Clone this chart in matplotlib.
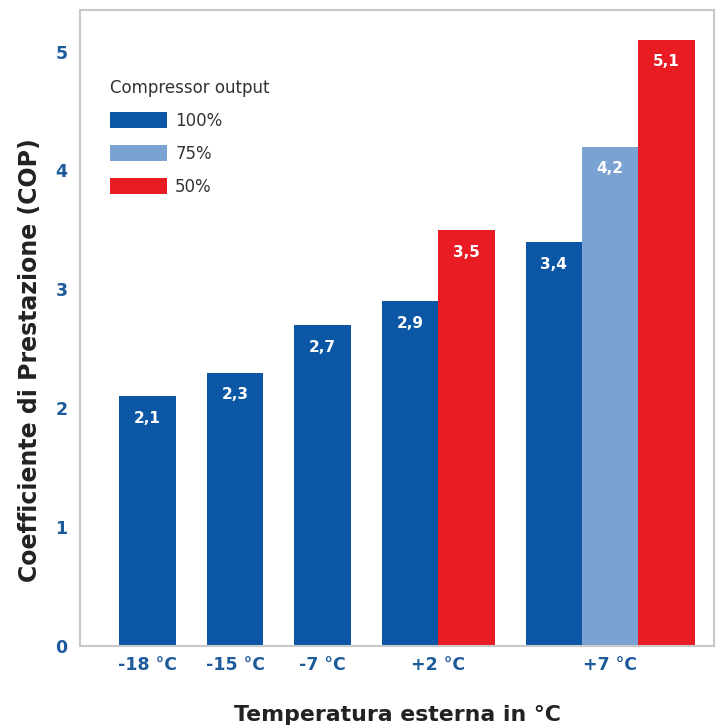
import matplotlib
matplotlib.use("Agg")
import matplotlib.pyplot as plt
from matplotlib.patches import Patch

# data
categories = ["-18 °C", "-15 °C", "-7 °C", "+2 °C", "+7 °C"]
series_names = ["100%", "75%", "50%"]
cop_100 = [2.1, 2.3, 2.7, 2.9, 3.4]
cop_75 = [None, None, None, None, 4.2]
cop_50 = [None, None, None, 3.5, 5.1]
value_labels_100 = ["2,1", "2,3", "2,7", "2,9", "3,4"]
value_labels_75 = ["", "", "", "", "4,2"]
value_labels_50 = ["", "", "", "3,5", "5,1"]
y_ticks = [0, 1, 2, 3, 4, 5]

colors = ["#0b57a6", "#7aa3d4", "#e91c24"]
tick_color = "#1d5a9c"

plt.rcParams["font.family"] = ["DejaVu Sans"]

fig = plt.figure(figsize=(7.24, 7.28), dpi=100)
ax = fig.add_axes([80 / 724, 82 / 728, 634 / 724, 636 / 728])

series = [cop_100, cop_75, cop_50]
labels = [value_labels_100, value_labels_75, value_labels_50]

# lay out groups: bars of width 1, gap 0.55 between groups
width = 1.0
gap = 0.55
x = 0.0
group_centers = []
for i in range(len(categories)):
    present = [k for k in range(len(series)) if series[k][i] is not None]
    n = len(present)
    for j, k in enumerate(present):
        xc = x + j * width + width / 2
        h = series[k][i]
        ax.bar(xc, h, width=width, color=colors[k], linewidth=0)
        ax.annotate(labels[k][i], (xc, h), xytext=(0, -16), textcoords="offset points",
                    ha="center", va="center", color="white", fontsize=11,
                    fontweight="bold")
    group_centers.append(x + n * width / 2)
    x += n * width + gap

first_left = 0.0
last_right = x - gap
ax.set_xlim(first_left - 0.70, last_right + 0.34)
ax.set_ylim(0, 5.35)

ax.set_xticks(group_centers)
ax.set_xticklabels(categories)
ax.set_yticks(y_ticks)
ax.tick_params(length=0, colors=tick_color, labelsize=12.5)
ax.tick_params(axis="y", pad=9)
ax.tick_params(axis="x", pad=7)
for lab in ax.get_xticklabels() + ax.get_yticklabels():
    lab.set_fontweight("bold")

for sp in ax.spines.values():
    sp.set_color("#c9c9c9")
    sp.set_linewidth(1.5)

ax.set_xlabel("Temperatura esterna in °C", fontsize=15.8, fontweight="bold",
              color="#222222")
ax.set_ylabel("Coefficiente di Prestazione (COP)", fontsize=17, fontweight="bold",
              color="#222222")
ax.xaxis.set_label_coords(0.5, -0.093)
ax.yaxis.set_label_coords(-0.06, 0.45)

handles = [Patch(facecolor=c, edgecolor="none") for c in colors]
leg = ax.legend(handles, series_names, title="Compressor output", loc="upper left",
                bbox_to_anchor=(0.047, 0.892), frameon=False, fontsize=12,
                title_fontsize=12, alignment="left", handlelength=3.42,
                handleheight=1.05, handletextpad=0.5, labelspacing=0.9,
                borderpad=0, borderaxespad=0)
for t in leg.get_texts():
    t.set_color("#333333")
leg.get_title().set_color("#333333")

fig.savefig("out.png", dpi=100)
